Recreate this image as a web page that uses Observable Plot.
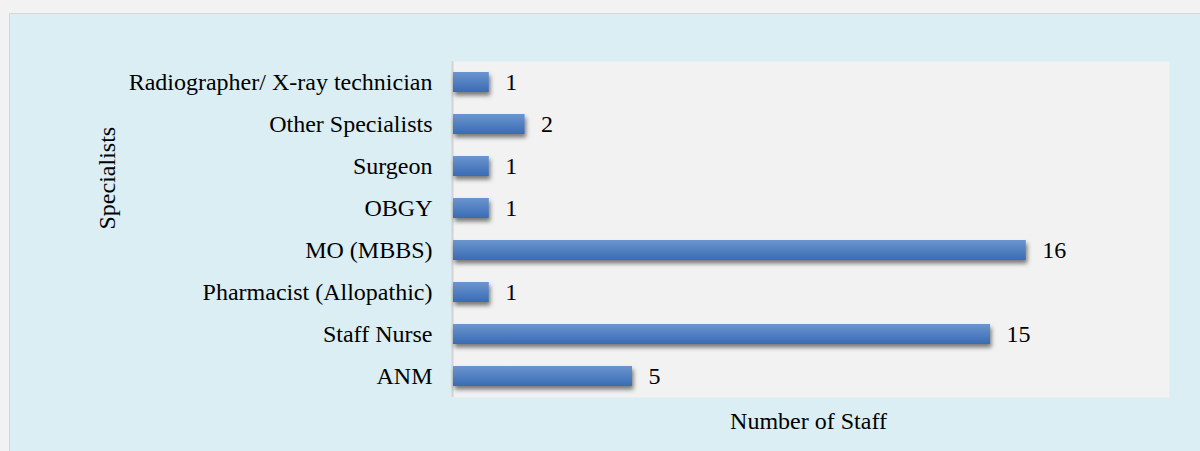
<!DOCTYPE html>
<html>
<head>
<meta charset="utf-8">
<script src="https://cdn.jsdelivr.net/npm/d3@7"></script>
<script src="https://cdn.jsdelivr.net/npm/@observablehq/plot@0.6"></script>
<style>
  html, body { margin: 0; padding: 0; background: #f2f2f2; width: 1200px; height: 451px; overflow: hidden; }
  #panel { position: absolute; left: 9px; top: 13px; width: 1191px; height: 438px; background: #daeef3; border-left: 1.5px solid #d6d6d6; border-top: 1.5px solid #d6d6d6; box-sizing: border-box; }
  #chart { position: absolute; left: 0; top: 0; }
  #chart svg, #chart svg text { font-family: "Liberation Serif", "Times New Roman", serif !important; }
</style>
</head>
<body>
<div id="panel"></div>
<div id="chart"></div>
<script>
const categories = ["Radiographer/ X-ray technician", "Other Specialists", "Surgeon", "OBGY", "MO (MBBS)", "Pharmacist (Allopathic)", "Staff Nurse", "ANM"];
const values = [1, 2, 1, 1, 16, 1, 15, 5];
const xLabel = "Number of Staff";
const yLabel = "Specialists";

const data = categories.map((c, i) => ({category: c, value: values[i]}));

const defs = () => {
  const d = d3.create("svg:defs");
  const g = d.append("linearGradient").attr("id", "barGrad").attr("x1", 0).attr("y1", 0).attr("x2", 0).attr("y2", 1);
  g.append("stop").attr("offset", "0%").attr("stop-color", "#6b95ce");
  g.append("stop").attr("offset", "100%").attr("stop-color", "#3a6bb4");
  const f = d.append("filter").attr("id", "barShadow").attr("x", "-10%").attr("y", "-30%").attr("width", "130%").attr("height", "180%");
  f.append("feDropShadow").attr("dx", 1.5).attr("dy", 3.5).attr("stdDeviation", 2.2).attr("flood-color", "#000").attr("flood-opacity", 0.5);
  return d.node();
};

const FS = 24;

const chart = Plot.plot({
  width: 1200,
  height: 451,
  marginLeft: 453,
  marginRight: 31,
  marginTop: 61,
  marginBottom: 54,
  style: {background: "transparent", fontFamily: "'Liberation Serif', 'Times New Roman', serif", fontSize: FS + "px", color: "black"},
  x: {domain: [0, 20], axis: null},
  y: {domain: categories, paddingInner: 0.524, paddingOuter: 0.262, label: null, tickSize: 0, tickPadding: 21},
  marks: [
    defs,
    Plot.frame({fill: "#f2f2f2", stroke: null}),
    Plot.ruleX([0], {stroke: "#d4d4d4", strokeWidth: 2, dx: -1}),
    Plot.barX(data, {x: "value", y: "category", fill: "url(#barGrad)"}),
    Plot.text(data, {x: "value", y: "category", text: d => String(d.value), dx: 16, textAnchor: "start", fill: "black", fontSize: FS}),
    Plot.axisY({tickSize: 0, tickPadding: 21, label: null, fontSize: FS}),
    Plot.text([yLabel], {frameAnchor: "left", dx: -346, rotate: -90, fill: "black", fontSize: FS}),
    Plot.text([xLabel], {frameAnchor: "bottom", dy: 31, dx: -3, fill: "black", fontSize: FS})
  ]
});

d3.select(chart).selectAll('g[aria-label="bar"]').attr("filter", "url(#barShadow)");
document.getElementById("chart").appendChild(chart);
</script>
</body>
</html>
